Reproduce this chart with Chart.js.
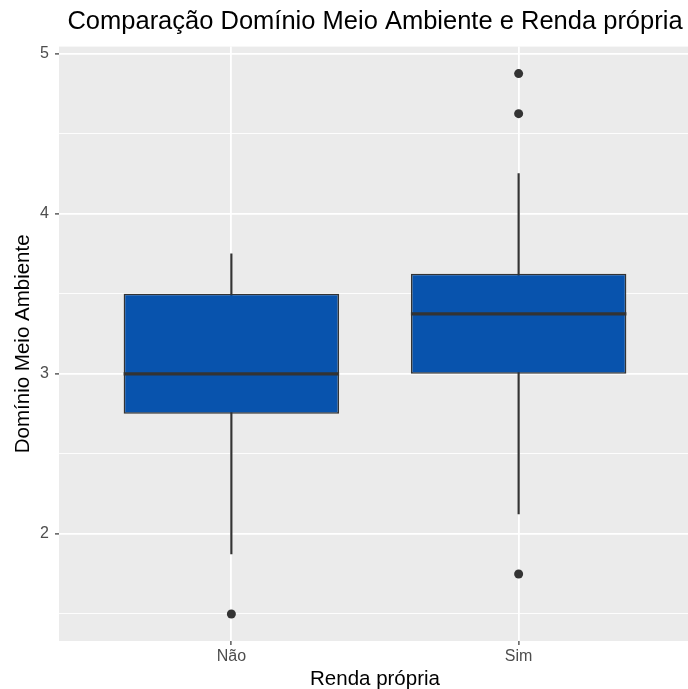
<!DOCTYPE html>
<html>
<head>
<meta charset="utf-8">
<script src="https://cdn.jsdelivr.net/npm/chart.js@4/dist/chart.umd.min.js"></script>
<style>
html,body{margin:0;padding:0;overflow:hidden;background:#ffffff;width:688px;height:689px}
#wrap{position:absolute;left:0;top:0;width:700px;height:700px}
</style>
</head>
<body>
<div id="wrap"><canvas id="c" width="700" height="700"></canvas></div>
<script>
// ---- data ----
const categories = ['Não', 'Sim'];
const categoryPositions = [1, 2];
const lowerWhisker = [1.875, 2.125];
const q1 = [2.75, 3.0];
const median = [3.0, 3.375];
const q3 = [3.5, 3.625];
const upperWhisker = [3.75, 4.25];
const outliers = [[1.5], [1.75, 4.625, 4.875]];
const yMajorTicks = [2, 3, 4, 5];
const yMinorTicks = [1.5, 2.5, 3.5, 4.5];
const yRange = [1.33125, 5.04375];
const xRange = [0.4, 2.6];

// ---- styles ----
const BOX_WIDTH = 0.75;
const FONT = "'Liberation Sans', Arial, Helvetica, sans-serif";
const PANEL_BG = '#EBEBEB';
const BOX_FILL = '#0853AD';
const DARK = '#333333';

const panelBg = {
  id: 'panelBg',
  beforeDraw(chart) {
    const {ctx, chartArea: a} = chart;
    ctx.save();
    ctx.fillStyle = '#ffffff';
    ctx.fillRect(0, 0, chart.width, chart.height);
    ctx.fillStyle = PANEL_BG;
    ctx.fillRect(a.left, a.top, a.right - a.left, a.bottom - a.top);
    ctx.restore();
  }
};

const whiskerData = categoryPositions.map((x, i) => ({x, y: [lowerWhisker[i], upperWhisker[i]]}));
const boxData = categoryPositions.map((x, i) => ({x, y: [q1[i], q3[i]]}));
const medianData = categoryPositions.map((x, i) => ({x, y: median[i]}));
const outlierData = [];
outliers.forEach((list, i) => list.forEach(v => outlierData.push({x: categoryPositions[i], y: v})));

const allYTicks = [...yMinorTicks, ...yMajorTicks].sort((a, b) => a - b);
const isMajor = v => yMajorTicks.some(m => Math.abs(m - v) < 1e-9);

new Chart(document.getElementById('c'), {
  type: 'bar',
  data: {
    datasets: [
      {
        type: 'bar', data: whiskerData, backgroundColor: DARK, borderWidth: 0,
        barThickness: 1.5, grouped: false, order: 3
      },
      {
        type: 'bar', data: boxData, backgroundColor: BOX_FILL, borderColor: DARK,
        borderWidth: 1.6, borderSkipped: false, barPercentage: BOX_WIDTH,
        categoryPercentage: 1, grouped: false, order: 2
      },
      {
        type: 'scatter', data: medianData, pointStyle: 'line',
        pointRadius: (ctx) => {
          const s = ctx.chart.scales.x;
          return Math.abs(s.getPixelForValue(1 + BOX_WIDTH / 2) - s.getPixelForValue(1));
        },
        pointBorderColor: DARK, pointBorderWidth: 3.2, order: 1
      },
      {
        type: 'scatter', data: outlierData, pointRadius: 4.5,
        pointBackgroundColor: DARK, pointBorderWidth: 0, order: 0
      }
    ]
  },
  options: {
    responsive: false,
    animation: false,
    events: [],
    layout: {padding: {left: 0, right: 9, top: 0, bottom: 0}},
    plugins: {
      legend: {display: false},
      tooltip: {enabled: false},
      title: {
        display: true, fullSize: false,
        text: 'Comparação Domínio Meio Ambiente e Renda própria',
        color: '#000000', font: {family: FONT, size: 25.5, weight: 'normal'},
        padding: {top: 7, bottom: 9}
      }
    },
    scales: {
      x: {
        type: 'linear', min: xRange[0], max: xRange[1], offset: false,
        afterBuildTicks: (axis) => { axis.ticks = categoryPositions.map(v => ({value: v})); },
        afterFit: (axis) => { axis.height = 59; },
        border: {display: false},
        grid: {offset: false, color: '#FFFFFF', lineWidth: 1.8, tickColor: DARK, tickLength: 4, tickWidth: 1.2},
        ticks: {
          callback: (v, i) => categories[i],
          autoSkip: false, maxRotation: 0, padding: 2,
          color: '#4D4D4D', font: {family: FONT, size: 16}
        },
        title: {
          display: true, text: 'Renda própria', color: '#000000',
          font: {family: FONT, size: 20.5}, padding: {top: 0, bottom: 8}
        }
      },
      y: {
        type: 'linear', min: yRange[0], max: yRange[1],
        afterBuildTicks: (axis) => { axis.ticks = allYTicks.map(v => ({value: v})); },
        afterFit: (axis) => { axis.width = 59; },
        border: {display: false},
        grid: {
          color: '#FFFFFF',
          lineWidth: (ctx) => isMajor(ctx.tick.value) ? 1.8 : 0.9,
          tickColor: (ctx) => isMajor(ctx.tick.value) ? DARK : 'rgba(0,0,0,0)',
          tickLength: 4, tickWidth: 1.2
        },
        ticks: {
          callback: (v) => isMajor(v) ? String(v) : '',
          autoSkip: false, padding: 6,
          color: '#4D4D4D', font: {family: FONT, size: 16}
        },
        title: {
          display: true, text: 'Domínio Meio Ambiente', color: '#000000',
          font: {family: FONT, size: 20.5}, padding: {top: 11, bottom: 0}
        }
      }
    }
  },
  plugins: [panelBg]
});
</script>
</body>
</html>
